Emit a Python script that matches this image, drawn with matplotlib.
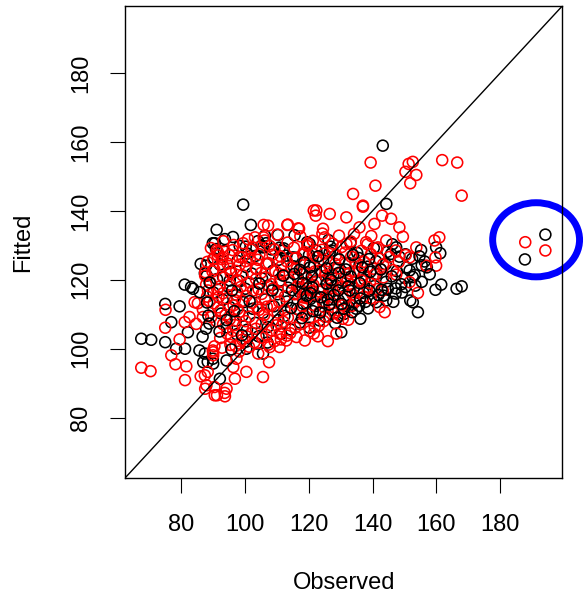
import matplotlib
matplotlib.use("Agg")
import matplotlib.pyplot as plt
from matplotlib.patches import Ellipse

plt.rcParams["font.family"] = ["Liberation Sans", "DejaVu Sans"]

# (observed, fitted) pairs
black_core = [
    (96.3, 132.4), (104.1, 131.2), (115.6, 132.9), (126.2, 131.5),
    (98.4, 129.8), (106.7, 130.6), (112.2, 129.1), (119.5, 130.9), (126.8, 129.6), (133.1, 130.7), (140.4, 129.2), (146.2, 130.3),
    (93.5, 128.3), (100.8, 127.6), (108.3, 128.8), (120.1, 127.2), (127.4, 128.4), (135.2, 127.8), (144.6, 128.1), (150.3, 127.4), (155.2, 128.6),
    (90.4, 126.2), (97.7, 125.5), (103.3, 126.9), (110.6, 125.8), (116.2, 126.4), (124.5, 125.7), (135.8, 126.3), (141.1, 125.4), (152.4, 126.1), (156.3, 125.3),
    (92.2, 124.4), (100.4, 123.7), (106.9, 124.6), (115.3, 123.9), (121.7, 124.2), (128.2, 123.5), (132.6, 124.8), (138.4, 123.8), (144.1, 124.5), (150.6, 123.6), (155.4, 124.2),
    (95.6, 122.3), (102.2, 121.8), (108.8, 122.6), (118.3, 121.6), (124.1, 122.4), (127.7, 121.3), (135.5, 122.1), (141.3, 121.7), (147.6, 122.5), (153.2, 121.4),
    (91.3, 120.2), (98.5, 119.6), (105.4, 120.4), (111.2, 119.8), (116.6, 120.6), (122.3, 119.5), (126.4, 120.3), (130.2, 119.2), (137.5, 120.1), (144.2, 119.4), (150.1, 120.5),
    (94.7, 118.1), (100.2, 117.4), (107.3, 118.3), (113.6, 117.7), (119.2, 118.5), (124.3, 117.2), (128.5, 118.4), (134.1, 117.6), (140.6, 118.2), (147.3, 117.5), (153.4, 118.3),
    (90.2, 116.3), (97.4, 115.6), (103.6, 116.4), (110.3, 115.8), (117.1, 116.5), (122.4, 115.3), (126.3, 116.1), (131.5, 115.5), (137.2, 116.2), (143.5, 115.4), (149.2, 116.3),
    (93.1, 114.2), (99.6, 113.5), (106.4, 114.3), (113.2, 113.7), (120.5, 114.4), (124.6, 113.3), (129.4, 114.1), (134.3, 113.4), (140.2, 114.3), (146.5, 113.6),
    (95.3, 112.1), (102.5, 111.6), (109.1, 112.3), (116.4, 111.5), (122.2, 112.4), (127.3, 111.2), (132.4, 112.2), (138.6, 111.7),
    (92.6, 110.2), (99.3, 109.6), (105.7, 110.4), (112.4, 109.5), (119.3, 110.3), (125.2, 109.4), (131.1, 110.1),
    (97.2, 108.1), (103.4, 107.5), (110.5, 108.3), (117.3, 107.6), (123.4, 108.2), (128.3, 107.4),
    (94.4, 106.2), (100.7, 105.5), (107.2, 106.3), (114.3, 105.6), (120.2, 106.1),
    (97.5, 104.2), (104.3, 103.6), (111.4, 104.3),
    (100.6, 102.1), (107.1, 101.8),
]

# black points that sit on top of the red ones in the middle of the cloud
black_dense = [
    (118.6, 125.1), (123.0, 126.8), (129.6, 125.9), (133.9, 127.2), (138.9, 126.0),
    (117.2, 122.9), (121.0, 121.0), (125.6, 123.3), (129.4, 122.0), (133.2, 120.9), (139.3, 122.3),
    (118.1, 119.0), (121.2, 117.7), (125.7, 118.8), (129.3, 116.9), (132.4, 118.1), (136.0, 119.0), (142.8, 117.1),
    (119.4, 115.4), (123.8, 114.9), (127.9, 115.6), (132.8, 116.9), (136.1, 114.6), (141.8, 115.6),
    (118.3, 113.1), (121.3, 110.9), (126.5, 112.8), (130.3, 113.0), (135.8, 112.4),
    (88.6, 109.6), (88.2, 113.4), (85.9, 116.4), (89.0, 119.2), (94.3, 108.3), (96.0, 116.9),
    (101.5, 113.8), (104.6, 118.9), (108.6, 116.9), (112.0, 121.2),
    (146.0, 121.0), (149.0, 118.7), (155.4, 119.4), (157.9, 121.6), (154.7, 126.8),
    (114.5, 111.8), (117.9, 108.9), (123.6, 110.5), (128.9, 109.0), (133.6, 110.6), (137.8, 113.6),
    (114.8, 117.0), (120.6, 116.1), (126.0, 114.2), (131.0, 111.6), (139.0, 116.8), (144.8, 117.4),
    (115.5, 121.7), (120.4, 123.6), (127.0, 119.9), (131.6, 123.0), (136.8, 123.6), (142.6, 123.0),
    (88.9, 107.3), (86.8, 103.5), (92.1, 105.0), (95.8, 99.8), (99.1, 103.9), (96.7, 110.9),
]

black_edge = [
    (67.6, 102.9), (70.7, 102.6), (75.1, 113.0), (75.1, 101.9), (77.0, 107.7), (79.6, 112.3),
    (78.5, 100.0), (81.3, 100.0), (81.2, 118.6), (83.2, 117.9), (82.2, 104.8), (85.8, 99.5),
    (88.4, 96.2), (90.0, 97.1), (86.2, 124.6), (87.9, 124.1), (88.1, 121.2), (87.9, 105.8),
    (91.0, 128.9), (90.0, 130.6), (99.5, 141.8), (101.9, 135.9), (91.2, 134.5), (93.8, 131.8),
    (90.6, 130.6), (105.2, 129.9), (110.4, 133.0), (100.3, 129.6), (87.5, 121.9), (110.9, 129.3),
    (113.0, 127.0), (120.3, 130.4), (95.3, 119.8), (93.2, 120.8), (83.8, 117.4),
    (92.2, 91.3), (87.0, 96.1), (90.1, 95.7), (94.3, 96.6), (100.5, 100.0), (105.7, 98.6),
    (130.2, 104.8), (134.9, 111.6), (103.7, 101.5), (87.5, 98.6),
    (144.3, 142.0), (106.3, 132.8), (105.7, 129.4), (112.0, 128.5), (115.1, 126.5),
    (122.4, 128.5), (126.6, 128.0), (145.8, 127.5), (147.4, 129.4),
    (143.2, 158.9), (159.9, 129.4), (161.2, 127.7), (157.0, 123.6), (161.5, 118.6), (159.7, 117.1),
    (166.3, 117.4), (167.9, 118.1), (152.6, 113.5), (154.2, 110.6), (136.2, 108.7), (148.4, 126.7),
    (151.6, 122.7), (152.6, 120.8), (147.2, 116.0), (150.3, 117.9), (151.8, 114.0), (144.3, 114.0),
    (141.2, 113.5),
]

red_core = [
    (110.2, 133.1), (117.4, 132.6), (124.3, 133.4), (129.5, 132.8), (134.2, 133.3), (139.6, 132.7),
    (93.3, 131.2), (99.5, 130.6), (106.2, 131.4), (113.4, 130.8), (121.3, 131.3), (127.5, 130.5), (133.2, 131.1), (138.4, 130.3), (144.3, 131.4),
    (89.4, 129.2), (96.2, 128.6), (102.5, 129.4), (109.3, 128.8), (115.4, 129.3), (124.2, 128.7), (130.3, 129.5), (136.5, 128.4), (141.2, 129.1), (147.3, 128.5),
    (91.5, 127.1), (98.3, 126.6), (104.6, 127.4), (111.2, 126.8), (118.3, 127.3), (122.4, 126.5), (128.6, 127.2), (133.3, 126.7), (139.5, 127.4), (145.2, 126.6), (150.4, 127.2),
    (88.3, 125.2), (94.6, 124.7), (100.3, 125.4), (107.5, 124.8), (113.2, 125.3), (120.4, 124.6), (126.3, 125.4), (131.5, 124.7), (137.4, 125.2), (143.3, 124.5), (148.2, 125.1),
    (90.4, 123.1), (97.3, 122.6), (103.4, 123.3), (109.6, 122.5), (116.3, 123.2), (123.5, 122.7), (129.2, 123.3), (134.4, 122.5), (140.3, 123.2), (146.4, 122.8),
    (87.6, 121.2), (93.4, 120.6), (99.3, 121.3), (106.5, 120.7), (112.3, 121.4), (119.4, 120.5), (125.3, 121.2), (131.6, 120.6), (137.2, 121.3), (143.4, 120.7),
    (89.3, 119.1), (95.4, 118.6), (101.2, 119.3), (108.4, 118.7), (114.3, 119.2), (121.5, 118.5), (127.3, 119.3), (133.4, 118.6), (139.2, 119.1),
    (91.4, 117.2), (97.6, 116.5), (104.3, 117.3), (110.4, 116.7), (117.5, 117.2), (123.3, 116.6), (129.4, 117.1), (135.3, 116.5), (141.4, 117.3),
    (88.2, 115.1), (94.3, 114.6), (100.5, 115.3), (106.3, 114.5), (112.6, 115.2), (119.3, 114.7), (125.4, 115.3), (131.2, 114.5), (137.3, 115.1),
    (90.3, 113.2), (96.5, 112.6), (102.3, 113.3), (108.4, 112.5), (115.2, 113.1), (121.4, 112.7), (127.3, 113.2), (133.5, 112.4),
    (92.4, 111.1), (98.2, 110.6), (104.5, 111.3), (110.3, 110.5), (117.2, 111.2), (123.4, 110.6), (129.3, 111.1),
    (89.5, 109.2), (95.3, 108.6), (101.4, 109.3), (107.2, 108.5), (113.5, 109.1), (120.3, 108.7), (126.2, 109.3), (132.4, 108.4),
    (93.2, 107.1), (99.4, 106.6), (105.3, 107.2), (111.5, 106.5), (117.3, 107.1), (123.2, 106.7),
    (96.4, 105.2), (102.3, 104.6), (108.5, 105.3), (114.2, 104.5), (120.4, 105.1),
    (92.3, 103.1), (99.2, 102.6), (105.4, 103.2), (111.3, 102.7),
    (95.5, 101.1), (101.3, 100.6), (107.4, 101.2),
    (98.3, 99.2), (104.2, 98.6),
]

red_dense = [
    (96.5, 130.1), (103.2, 132.3), (119.6, 129.8), (131.4, 127.9), (142.1, 126.1),
    (92.8, 126.0), (101.6, 126.1), (108.7, 127.3), (115.8, 126.2), (124.9, 127.6), (136.3, 124.2),
    (89.9, 122.4), (95.6, 121.9), (105.1, 122.0), (111.4, 123.8), (118.6, 122.1), (127.0, 121.8), (132.8, 121.9), (140.8, 121.6),
    (92.1, 118.0), (98.7, 117.9), (103.5, 120.2), (110.9, 119.4), (116.4, 118.0), (123.9, 119.7), (130.6, 118.0), (136.6, 119.8),
    (93.2, 116.1), (99.3, 113.9), (105.3, 115.9), (108.9, 117.5), (115.6, 115.8), (121.2, 116.8), (127.5, 115.0), (133.7, 115.8), (139.4, 114.6),
    (91.6, 112.0), (97.7, 111.5), (103.9, 112.0), (110.8, 113.6), (118.1, 112.3), (124.8, 112.1), (130.6, 112.6),
    (94.0, 109.8), (100.2, 108.0), (106.1, 109.8), (112.1, 107.8), (118.7, 109.6), (124.7, 108.0), (129.8, 109.6),
    (96.9, 106.9), (103.5, 105.8), (109.9, 106.8), (115.8, 106.1), (121.6, 104.4),
    (94.5, 104.4), (100.6, 103.6), (106.8, 104.0), (113.2, 103.8),
    (97.1, 100.8), (103.0, 101.9), (109.3, 102.2),
    (87.9, 118.6), (89.0, 113.8), (91.1, 108.0), (92.9, 100.3),
    (113.9, 119.9), (120.0, 119.0), (126.6, 117.4), (132.1, 119.6), (138.3, 117.9),
    (112.4, 111.3), (118.2, 114.9), (124.4, 113.8), (134.8, 113.9), (128.1, 110.3),
    (114.6, 123.6), (121.9, 122.4), (128.3, 124.6), (134.7, 124.9), (142.5, 123.1),
    (98.4, 124.4), (104.1, 125.8), (95.2, 127.1), (101.0, 131.8), (107.8, 129.8),
    (91.8, 115.0), (97.5, 119.9), (102.6, 116.9), (106.9, 112.2), (96.9, 114.1),
]

red_edge = [
    (67.6, 94.5), (70.5, 93.5), (75.2, 111.3), (75.1, 106.1), (79.6, 102.7), (77.0, 98.1),
    (78.3, 95.5), (81.7, 94.9), (81.3, 90.9), (81.2, 107.7), (82.7, 109.2), (84.3, 113.5),
    (86.2, 92.0), (88.4, 93.3), (87.6, 88.4), (90.5, 88.9), (91.3, 86.5), (93.7, 87.2),
    (90.0, 99.5), (90.5, 100.7), (87.6, 122.2), (85.3, 113.2), (86.9, 111.3), (84.8, 107.2),
    (86.9, 109.2), (91.6, 128.0), (93.1, 126.5),
    (105.9, 135.9), (113.3, 135.9), (116.7, 134.9), (121.6, 140.1), (122.2, 138.6), (105.9, 132.3),
    (102.1, 128.7), (91.2, 128.5), (93.2, 124.1), (90.1, 126.0), (110.7, 121.7), (106.8, 124.6),
    (118.8, 128.0), (121.3, 127.5), (99.3, 126.5), (95.3, 123.2), (103.7, 123.2), (88.5, 116.9),
    (105.7, 91.8), (107.6, 96.1), (100.5, 93.3), (96.9, 91.3), (94.3, 88.4), (90.6, 86.5),
    (93.8, 86.2), (88.0, 89.4), (87.5, 92.3), (90.1, 99.0), (96.4, 94.7), (97.4, 97.1),
    (107.8, 100.5), (110.9, 100.5), (113.0, 102.4), (118.8, 102.4), (122.9, 103.6), (126.0, 102.2),
    (128.7, 104.4), (130.7, 108.7), (121.9, 106.3), (116.2, 103.4), (110.9, 104.4), (98.4, 101.5),
    (95.8, 103.4), (90.1, 98.1),
    (107.3, 135.7), (113.5, 136.0), (117.0, 134.8), (122.4, 140.1), (126.6, 139.1), (131.8, 138.1),
    (137.0, 141.5), (124.5, 134.8), (135.9, 135.2), (140.6, 136.2), (119.8, 130.4), (131.8, 130.4),
    (138.0, 130.9), (141.7, 129.4), (125.0, 132.3),
    (139.4, 154.0), (150.3, 151.3), (151.3, 153.6), (152.6, 154.2), (153.7, 150.4), (151.8, 148.0),
    (161.8, 154.7), (166.5, 154.0), (167.9, 144.4), (140.9, 147.3), (133.9, 144.9), (137.0, 141.2),
    (143.0, 138.6), (145.8, 137.7), (148.4, 135.2), (149.5, 132.5), (153.7, 129.4), (159.4, 131.4),
    (160.9, 132.3), (159.7, 126.5), (159.9, 124.1), (156.8, 124.1), (154.2, 116.2), (143.8, 110.6),
    (151.6, 126.5), (147.4, 121.5), (151.6, 119.3), (143.2, 116.9), (142.2, 112.1),
]

black_outliers = [(194.1, 133.1), (187.7, 125.9)]
red_outliers = [(187.8, 130.9), (194.1, 128.5)]

ticks = [80, 100, 120, 140, 160, 180]
lims = (62.6, 199.4)

fig = plt.figure(figsize=(5.84, 6.0), dpi=100)
ax = fig.add_axes([125.3 / 584, 1 - 477.7 / 600, 437.0 / 584, 471.7 / 600])

ring = dict(s=62, facecolors="none", linewidths=1.15)
black_under = black_core + black_edge + black_outliers
red = red_core + red_dense + red_edge + red_outliers
ax.scatter([p[0] for p in black_under], [p[1] for p in black_under], edgecolors="black", **ring)
ax.scatter([p[0] for p in red], [p[1] for p in red], edgecolors="#ff0000", **ring)
ax.scatter([p[0] for p in black_dense], [p[1] for p in black_dense], edgecolors="black", **ring)

ax.axline((100, 100), slope=1, color="black", lw=1.0)

# blue ring round the outliers
ax.add_patch(Ellipse((191.2, 131.6), 27.2, 21.5, fill=False,
                     edgecolor="#0000ff", lw=5, clip_on=False))

ax.set_xlim(lims)
ax.set_ylim(lims)
ax.set_xticks(ticks)
ax.set_yticks(ticks)
ax.tick_params(direction="out", length=10.8, width=0.8, labelsize=17)
ax.tick_params(axis="x", pad=15)
ax.tick_params(axis="y", pad=13, labelrotation=90)
for lbl in ax.get_yticklabels():
    lbl.set_va("center")
for sp in ax.spines.values():
    sp.set_linewidth(1.0)

fig.text(343.8 / 584, 1 - 583 / 600, "Observed", ha="center", va="center", fontsize=17)
fig.text(23 / 584, 1 - 242 / 600, "Fitted", ha="center", va="center",
         rotation=90, fontsize=17)

fig.savefig("out.png", dpi=100)
